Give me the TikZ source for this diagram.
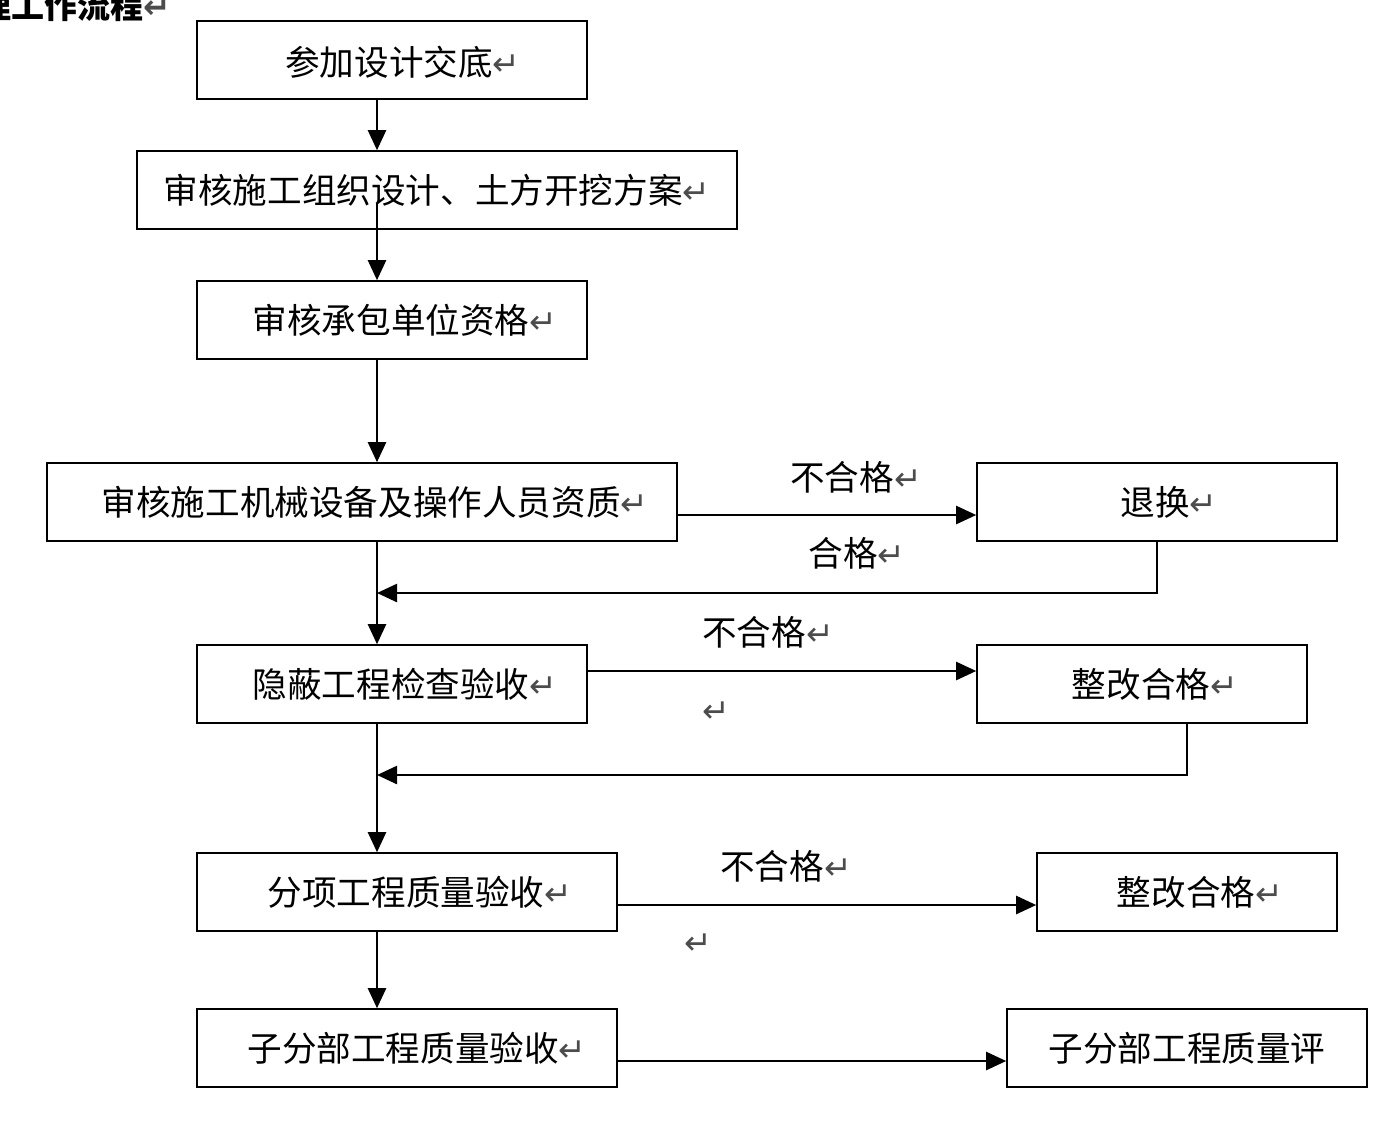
\documentclass[tikz,border=0pt]{standalone}
\usepackage{fontspec}
\usetikzlibrary{arrows.meta,calc}
\newfontfamily\cjk{Noto Sans CJK SC}
\newfontfamily\djv{DejaVu Sans}
\newcommand\rt{{\djv\fontsize{33}{33}\selectfont\color{black!70}↵}}
\begin{document}
\begin{tikzpicture}[x=1pt,y=-1pt,
  box/.style={draw,line width=1.6pt,inner sep=0pt},
  txt/.style={inner sep=0pt,font=\cjk\fontsize{34.6}{34.6}\selectfont},
  lab/.style={inner sep=0pt,font=\cjk\fontsize{34.6}{34.6}\selectfont},
  arr/.style={line width=2.4pt,-{Triangle[length=20pt,width=18pt]}},
  ln/.style={line width=2.4pt}]
\useasboundingbox (0,0) rectangle (1396,1136);
\clip (0,0) rectangle (1396,1136);
\fill[white] (0,0) rectangle (1396,1136);
% title (cut off in the reference)
\node[inner sep=0pt,anchor=west,font=\cjk\bfseries\fontsize{33}{33}\selectfont] (title) at (-22,6) {理工作流程\rt};
% boxes
\node[box,minimum width=390pt,minimum height=78pt] (b1) at (392,60) {};
\node[box,minimum width=600pt,minimum height=78pt] (b2) at (437,190) {};
\node[box,minimum width=390pt,minimum height=78pt] (b3) at (392,320) {};
\node[box,minimum width=630pt,minimum height=78pt] (b4) at (362,502) {};
\node[box,minimum width=360pt,minimum height=78pt] (b5) at (1157,502) {};
\node[box,minimum width=390pt,minimum height=78pt] (b6) at (392,684) {};
\node[box,minimum width=330pt,minimum height=78pt] (b7) at (1142,684) {};
\node[box,minimum width=420pt,minimum height=78pt] (b8) at (407,892) {};
\node[box,minimum width=300pt,minimum height=78pt] (b9) at (1187,892) {};
\node[box,minimum width=420pt,minimum height=78pt] (b10) at (407,1048) {};
\node[box,minimum width=360pt,minimum height=78pt] (b11) at (1187,1048) {};
% texts
\node[txt] (t1) at (403,62) {参加设计交底\rt};
\node[txt] (t2) at (437,190) {审核施工组织设计、土方开挖方案\rt};
\node[txt] (t3) at (405,320) {审核承包单位资格\rt};
\node[txt] (t4) at (375,502) {审核施工机械设备及操作人员资质\rt};
\node[txt] (t5) at (1169,502) {退换\rt};
\node[txt] (t6) at (405,684) {隐蔽工程检查验收\rt};
\node[txt] (t7) at (1155,684) {整改合格\rt};
\node[txt] (t8) at (420,892) {分项工程质量验收\rt};
\node[txt] (t9) at (1200,892) {整改合格\rt};
\node[txt] (t10) at (417,1048) {子分部工程质量验收\rt};
\node[txt] (t11) at (1187,1048) {子分部工程质量评};
% labels
\node[lab] (l1) at (856,477) {不合格\rt};
\node[lab] (l2) at (857,553) {合格\rt};
\node[lab] (l3) at (768,632) {不合格\rt};
\node[lab] (l4) at (786,866) {不合格\rt};
\node[inner sep=0pt] (r1) at (716,712) {\rt};
\node[inner sep=0pt] (r2) at (698,944) {\rt};
% spine
\coordinate (sp) at (377,0);
\coordinate (s2) at (377,203);
\coordinate (j1) at (377,593);
\coordinate (j2) at (377,775);
% connectors
\draw[arr] (b1.south -| sp) -- (b2.north -| sp);
\draw[arr] (s2) -- (b3.north -| sp);
\draw[arr] (b3.south -| sp) -- (b4.north -| sp);
\draw[arr] (b4.south -| sp) -- (b6.north -| sp);
\draw[arr] ([yshift=-13pt]b4.east) -- ([yshift=-13pt]b5.west);
\draw[arr] (b5.south) |- (j1);
\draw[arr] ([yshift=13pt]b6.east) -- ([yshift=13pt]b7.west);
\draw[arr] ([xshift=45pt]b7.south) |- (j2);
\draw[arr] (b6.south -| sp) -- (b8.north -| sp);
\draw[arr] ([yshift=-13pt]b8.east) -- ([yshift=-13pt]b9.west);
\draw[arr] (b8.south -| sp) -- (b10.north -| sp);
\draw[arr] ([yshift=-13pt]b10.east) -- ([yshift=-13pt]b11.west);
\end{tikzpicture}
\end{document}
